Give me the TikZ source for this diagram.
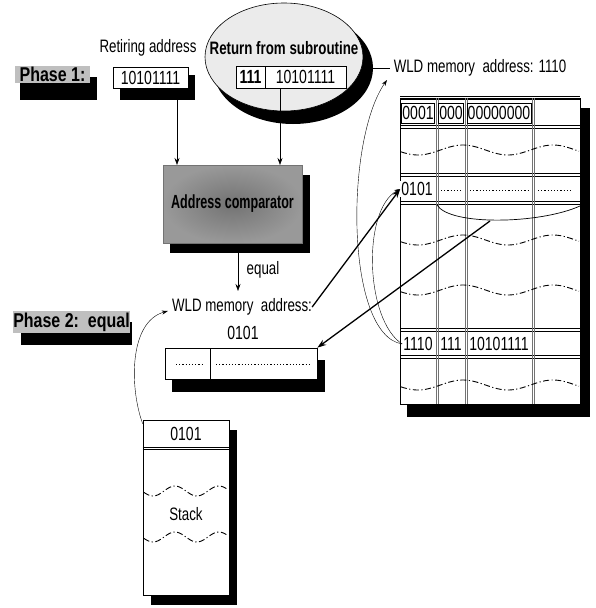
\documentclass[tikz,border=0pt]{standalone}
\usepackage{fontspec}
\setmainfont{Liberation Sans}[FakeStretch=0.74]
\newfontfamily\condfont{Liberation Sans}[FakeStretch=0.66]
\newfontfamily\phasefont{Liberation Sans}[FakeStretch=0.8]
\usetikzlibrary{arrows.meta,shapes.geometric}
\begin{document}
\begin{tikzpicture}[x=1pt,y=-1pt,
  txt/.style={font=\fontsize{18}{20}\selectfont, inner sep=0pt},
  dig/.style={font=\fontsize{19}{21}\selectfont, inner sep=0pt},
  phaselab/.style={fill=black!25, font=\phasefont\fontsize{20}{22}\selectfont\bfseries, inner sep=0pt},
  shade/.style={fill=black, inner sep=0pt},
  cellbox/.style={draw, fill=white, line width=0.6pt, inner sep=0pt},
  arr/.style={-{Stealth[length=7pt,width=5pt]}, line width=0.6pt},
  thinarr/.style={-{Stealth[length=6pt,width=4pt]}, line width=0.4pt},
  thickarr/.style={-{Stealth[length=9pt,width=6pt]}, line width=1.3pt},
  wave/.style={line width=0.9pt, dash pattern=on 6pt off 2.5pt on 1.2pt off 2.5pt},
  hline/.style={line width=0.7pt},
  vline/.style={line width=0.8pt, draw=black!55},
  dotline/.style={line width=1pt, dash pattern=on 1.2pt off 2pt},
]
\useasboundingbox (0,0) rectangle (595,608);

% Phase 1
\fill (20,77) rectangle (97,100);
\node[phaselab, minimum width=75pt, minimum height=17pt] (phaseA) at (52.5,74.5) {Phase 1:};

% Retiring address
\node[txt] (retlab) at (148,48) {Retiring address};
\node[shade, minimum width=75pt, minimum height=25pt] (retsh) at (157.5,87.5) {};
\node[cellbox, dig, minimum width=75pt, minimum height=21pt] (retbox) at (150.5,77.5) {10101111};

% Return from subroutine ellipse
\node[ellipse, shade, minimum width=160pt, minimum height=112pt] (ellsh) at (293,68) {};
\node[ellipse, draw, line width=0.6pt, fill=black!8, minimum width=158pt, minimum height=108pt] (ell) at (284,57) {};
\node[txt, font=\fontsize{18}{20}\selectfont\bfseries] (rfs) at (284,48) {Return from subroutine};
\node[cellbox, dig, font=\fontsize{19}{21}\selectfont\bfseries, minimum width=29pt, minimum height=22pt] (subA) at (250.5,77) {111};
\node[cellbox, dig, minimum width=81pt, minimum height=22pt] (subB) at (305.5,77) {10101111};

% comparator
\node[shade, minimum width=140pt, minimum height=78pt] (compsh) at (240,214) {};
\node[minimum width=139pt, minimum height=78pt, inner sep=0pt, inner color=black!55, outer color=black!40, draw=black!55,
      font=\condfont\fontsize{19}{21}\selectfont\bfseries] (comp) at (232.5,204) {Address comparator};
\coordinate (cinA) at (177,165);
\coordinate (cinB) at (280,165);
\draw[arr] (cinA |- retsh.south) -- (cinA);
\draw[arr] (cinB |- subB.south) -- (cinB);

% equal
\coordinate (eqend) at (238,291);
\draw[arr] (eqend |- compsh.south) -- (eqend);
\node[txt] (eqlab) at (263,270) {equal};

% Phase 2
\fill (21,322) rectangle (132,345);
\node[phaselab, minimum width=113pt, minimum height=22pt] (phaseB) at (71.5,322) {Phase 2:\ \ equal};

% WLD memory address 0101 and register
\node[txt] (wldmid) at (242,307) {WLD memory\ \ address:};
\node[dig] (wldnum) at (243,333) {0101};
\node[shade, minimum width=153pt, minimum height=32pt] (regsh) at (248.5,376) {};
\node[cellbox, minimum width=152pt, minimum height=31pt] (reg) at (241,363.5) {};
\draw[line width=0.6pt] (210,348) -- (210,379);
\draw[dotline] (176,364) -- (202,364);
\draw[dotline] (216,364) -- (310,364);

% memory table
\node[txt] (wldtop) at (480,68) {WLD memory\ \ address: 1110};
\draw[line width=0.5pt] (ellsh.east) -- ([xshift=-4pt]wldtop.west);
\node[shade, minimum width=183pt, minimum height=309pt] (memsh) at (498.5,262.5) {};
\node[draw, fill=white, line width=0.6pt, minimum width=180pt, minimum height=306pt, inner sep=0pt] (mem) at (490,251) {};
\foreach \yy in {98,127,175,203,330,357} {
  \draw[hline] (400,\yy-1.2) -- (580,\yy-1.2);
  \draw[hline] (400,\yy+1.2) -- (580,\yy+1.2);
}
\foreach \xx in {437,466,533} {
  \draw[vline] (\xx-1,98) -- (\xx-1,404);
  \draw[vline] (\xx+1,98) -- (\xx+1,404);
}
\foreach \yy in {150,240,290,385}
  \draw[wave] plot[domain=401:579, samples=60] (\x, {\yy - 5*cos((\x-463)*4)});

\node[cellbox, dig, line width=0.4pt, minimum width=33pt, minimum height=20pt] (m1a) at (418,113) {0001};
\node[cellbox, dig, line width=0.4pt, minimum width=25pt, minimum height=20pt] (m1b) at (451,113) {000};
\node[cellbox, dig, line width=0.4pt, minimum width=64pt, minimum height=20pt] (m1c) at (499,113) {00000000};

\node[dig, fill=white, inner sep=1pt] (r0101) at (417,189) {0101};
\draw[dotline] (441,190) -- (462,190);
\draw[dotline] (470,190) -- (528,190);
\draw[dotline] (538,190) -- (572,190);

\node[dig, fill=white, inner sep=1pt] (r1110) at (418,344) {1110};
\node[dig, fill=white, inner sep=1pt] (r111) at (451,344) {111};
\node[dig, fill=white, inner sep=1pt] (r1010) at (499,344) {10101111};

% connectors on the table
\draw[line width=0.7pt] (437,205) .. controls (450,226) and (540,224) .. (580,206);
\coordinate (sagbot) at (490,221);
\draw[thickarr] (sagbot) -- (reg.north east);
\draw[thickarr] (wldmid.east) -- (r0101.west);
\draw[thinarr] (r1110.west) .. controls (365,320) and (362,210) .. (r0101.west);
\coordinate (wldtip) at (387,80);
\draw[thinarr] (r1110.west) .. controls (345,335) and (345,140) .. (wldtip);

% stack
\node[shade, minimum width=86pt, minimum height=175pt] (stacksh) at (194,517.5) {};
\node[draw, fill=white, line width=0.6pt, minimum width=86pt, minimum height=175pt, inner sep=0pt] (stack) at (186,507.5) {};
\draw[hline] (stack.west |- 0,447) -- (stack.east |- 0,447);
\draw[hline] (stack.west |- 0,449.5) -- (stack.east |- 0,449.5);
\node[dig] (stacktop) at (186,434) {0101};
\node[txt] (stacklab) at (186,514) {Stack};
\foreach \yy in {491,537}
  \draw[wave] plot[domain=144:228, samples=50] (\x, {\yy + 5*cos((\x-153)*8.2)});
\draw[thinarr] ([yshift=-4pt]stack.north west) .. controls (130,390) and (128,322) .. ([xshift=-4pt,yshift=-4pt]wldmid.west);
\end{tikzpicture}
\end{document}
